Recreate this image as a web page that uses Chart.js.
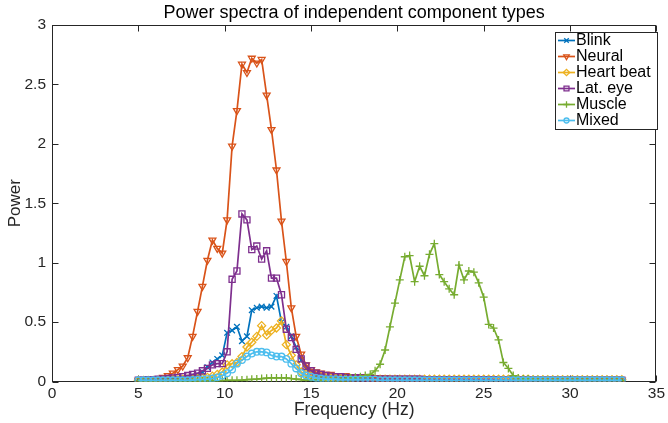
<!DOCTYPE html>
<html>
<head>
<meta charset="utf-8">
<script src="https://cdn.jsdelivr.net/npm/chart.js"></script>
<style>
  body { margin: 0; background: #fff; }
</style>
</head>
<body>
<canvas id="mychart" width="668" height="423"></canvas>
<script>
// frequency bins (Hz)
var freqs = [
  5, 5.29, 5.57, 5.86, 6.14, 6.43, 6.71,
  7, 7.29, 7.57, 7.86, 8.14, 8.43, 8.71,
  9, 9.29, 9.57, 9.86, 10.14, 10.43, 10.71,
  11, 11.29, 11.57, 11.86, 12.14, 12.43, 12.71,
  13, 13.29, 13.57, 13.86, 14.14, 14.43, 14.71,
  15, 15.29, 15.57, 15.86, 16.14, 16.43, 16.71,
  17, 17.29, 17.57, 17.86, 18.14, 18.43, 18.71,
  19, 19.29, 19.57, 19.86, 20.14, 20.43, 20.71,
  21, 21.29, 21.57, 21.86, 22.14, 22.43, 22.71,
  23, 23.29, 23.57, 23.86, 24.14, 24.43, 24.71,
  25, 25.29, 25.57, 25.86, 26.14, 26.43, 26.71,
  27, 27.29, 27.57, 27.86, 28.14, 28.43, 28.71,
  29, 29.29, 29.57, 29.86, 30.14, 30.43, 30.71,
  31, 31.29, 31.57, 31.86, 32.14, 32.43, 32.71,
  33
]

var blink = [
  0.01, 0.01, 0.01, 0.01, 0.015, 0.015, 0.02,
  0.02, 0.025, 0.03, 0.035, 0.045, 0.055, 0.08,
  0.12, 0.16, 0.19, 0.22, 0.41, 0.43, 0.46,
  0.34, 0.38, 0.60, 0.62, 0.63, 0.62, 0.63,
  0.72, 0.50, 0.46, 0.38, 0.29, 0.18, 0.11,
  0.08, 0.06, 0.05, 0.04, 0.035, 0.03, 0.03,
  0.03, 0.025, 0.025, 0.02, 0.02, 0.02, 0.02,
  0.02, 0.02, 0.015, 0.015, 0.015, 0.015, 0.015,
  0.015, 0.015, 0.015, 0.015, 0.015, 0.015, 0.015,
  0.015, 0.015, 0.015, 0.01, 0.01, 0.01, 0.01,
  0.01, 0.01, 0.01, 0.01, 0.01, 0.01, 0.01,
  0.01, 0.01, 0.01, 0.01, 0.01, 0.01, 0.01,
  0.01, 0.01, 0.01, 0.01, 0.01, 0.01, 0.01,
  0.01, 0.01, 0.01, 0.01, 0.01, 0.01, 0.01,
  0.01
]

var neural = [
  0.01, 0.015, 0.02, 0.02, 0.025, 0.035, 0.05,
  0.07, 0.10, 0.13, 0.20, 0.38, 0.59, 0.80,
  1.02, 1.19, 1.12, 1.08, 1.36, 1.98, 2.28,
  2.67, 2.60, 2.72, 2.68, 2.71, 2.41, 2.12,
  1.78, 1.35, 1.01, 0.62, 0.38, 0.23, 0.14,
  0.10, 0.08, 0.07, 0.06, 0.06, 0.05, 0.05,
  0.05, 0.04, 0.04, 0.04, 0.04, 0.03, 0.03,
  0.03, 0.03, 0.02, 0.02, 0.02, 0.02, 0.02,
  0.02, 0.02, 0.02, 0.02, 0.02, 0.02, 0.02,
  0.02, 0.02, 0.02, 0.015, 0.015, 0.015, 0.015,
  0.015, 0.015, 0.015, 0.015, 0.015, 0.015, 0.015,
  0.01, 0.01, 0.01, 0.01, 0.01, 0.01, 0.01,
  0.01, 0.01, 0.01, 0.01, 0.01, 0.01, 0.01,
  0.01, 0.01, 0.01, 0.01, 0.01, 0.01, 0.01,
  0.01
]

var heartBeat = [
  0.01, 0.01, 0.01, 0.01, 0.01, 0.01, 0.01,
  0.015, 0.015, 0.02, 0.02, 0.02, 0.025, 0.03,
  0.035, 0.045, 0.06, 0.08, 0.14, 0.15, 0.16,
  0.21, 0.29, 0.33, 0.38, 0.47, 0.39, 0.43,
  0.45, 0.51, 0.31, 0.22, 0.14, 0.08, 0.06,
  0.05, 0.04, 0.035, 0.03, 0.03, 0.03, 0.025,
  0.025, 0.025, 0.02, 0.02, 0.02, 0.02, 0.02,
  0.02, 0.02, 0.02, 0.02, 0.02, 0.02, 0.02,
  0.02, 0.02, 0.02, 0.02, 0.02, 0.02, 0.02,
  0.02, 0.02, 0.02, 0.02, 0.02, 0.02, 0.02,
  0.02, 0.02, 0.02, 0.02, 0.02, 0.02, 0.02,
  0.02, 0.02, 0.02, 0.015, 0.015, 0.015, 0.015,
  0.015, 0.015, 0.015, 0.015, 0.015, 0.015, 0.015,
  0.015, 0.015, 0.015, 0.015, 0.015, 0.015, 0.015,
  0.015
]

var latEye = [
  0.01, 0.01, 0.015, 0.015, 0.02, 0.02, 0.025,
  0.03, 0.035, 0.04, 0.05, 0.06, 0.07, 0.09,
  0.11, 0.14, 0.15, 0.15, 0.25, 0.86, 0.93,
  1.41, 1.36, 1.11, 1.14, 1.03, 1.10, 0.87,
  0.87, 0.73, 0.44, 0.37, 0.27, 0.19, 0.13,
  0.09, 0.07, 0.06, 0.05, 0.045, 0.04, 0.04,
  0.035, 0.03, 0.03, 0.03, 0.025, 0.025, 0.02,
  0.02, 0.02, 0.02, 0.02, 0.02, 0.02, 0.02,
  0.02, 0.02, 0.015, 0.015, 0.015, 0.015, 0.015,
  0.015, 0.015, 0.015, 0.015, 0.015, 0.015, 0.015,
  0.015, 0.015, 0.015, 0.01, 0.01, 0.01, 0.01,
  0.01, 0.01, 0.01, 0.01, 0.01, 0.01, 0.01,
  0.01, 0.01, 0.01, 0.01, 0.01, 0.01, 0.01,
  0.01, 0.01, 0.01, 0.01, 0.01, 0.01, 0.01,
  0.01
]

var muscle = [
  0.005, 0.005, 0.005, 0.005, 0.005, 0.005, 0.005,
  0.005, 0.005, 0.005, 0.005, 0.005, 0.005, 0.005,
  0.005, 0.005, 0.005, 0.008, 0.01, 0.01, 0.01,
  0.012, 0.015, 0.018, 0.02, 0.025, 0.028, 0.03,
  0.03, 0.03, 0.03, 0.025, 0.02, 0.015, 0.012,
  0.012, 0.015, 0.015, 0.018, 0.02, 0.02, 0.022,
  0.025, 0.03, 0.035, 0.04, 0.05, 0.06, 0.09,
  0.145, 0.265, 0.46, 0.66, 0.855, 1.05, 1.06,
  0.84, 0.97, 0.89, 1.07, 1.16, 0.90, 0.84,
  0.78, 0.73, 0.98, 0.855, 0.93, 0.92, 0.83,
  0.71, 0.48, 0.45, 0.35, 0.16, 0.11, 0.05,
  0.03, 0.02, 0.02, 0.015, 0.015, 0.01, 0.01,
  0.01, 0.01, 0.01, 0.01, 0.01, 0.01, 0.01,
  0.01, 0.01, 0.01, 0.01, 0.01, 0.01, 0.01,
  0.01
]

var mixed = [
  0.01, 0.01, 0.01, 0.01, 0.01, 0.01, 0.01,
  0.01, 0.01, 0.01, 0.01, 0.012, 0.015, 0.018,
  0.02, 0.025, 0.035, 0.05, 0.07, 0.10, 0.15,
  0.18, 0.21, 0.235, 0.25, 0.25, 0.245, 0.22,
  0.21, 0.21, 0.19, 0.15, 0.11, 0.07, 0.05,
  0.04, 0.03, 0.025, 0.02, 0.02, 0.02, 0.015,
  0.015, 0.015, 0.015, 0.015, 0.015, 0.015, 0.015,
  0.01, 0.01, 0.01, 0.01, 0.01, 0.01, 0.01,
  0.01, 0.01, 0.01, 0.01, 0.01, 0.01, 0.01,
  0.01, 0.01, 0.01, 0.01, 0.01, 0.01, 0.01,
  0.01, 0.01, 0.01, 0.01, 0.01, 0.01, 0.01,
  0.01, 0.01, 0.01, 0.01, 0.01, 0.01, 0.01,
  0.01, 0.01, 0.01, 0.01, 0.01, 0.01, 0.01,
  0.01, 0.01, 0.01, 0.01, 0.01, 0.01, 0.01,
  0.01
]

var names = ["Blink", "Neural", "Heart beat", "Lat. eye", "Muscle", "Mixed"]
var colors = ["#0072BD", "#D95319", "#EDB120", "#7E2F8E", "#77AC30", "#4DBEEE"]
var styles = ["crossRot", "triangle", "rectRot", "rect", "cross", "circle"]
var rotations = [0, 180, 0, 0, 0, 0]
var radii = [4, 4, 4, 4.3, 4, 3.3]
var series = [blink, neural, heartBeat, latEye, muscle, mixed]

var FONT = "'Liberation Sans', Arial, Helvetica, sans-serif"
var AXIS = "#262626"

function toPoints(vals) {
  var pts = []
  for (var i = 0; i < freqs.length; i++) pts.push({x: freqs[i], y: vals[i]})
  return pts
}

var datasets = []
for (var k = 0; k < series.length; k++) {
  datasets.push({
    label: names[k],
    data: toPoints(series[k]),
    borderColor: colors[k],
    backgroundColor: colors[k],
    borderWidth: 1.7,
    pointStyle: styles[k],
    rotation: rotations[k],
    pointRadius: radii[k],
    pointHoverRadius: radii[k],
    pointBorderWidth: 1.3,
    pointBorderColor: colors[k],
    pointBackgroundColor: "rgba(255,255,255,0)",
    tension: 0,
    order: series.length - k
  })
}

// center the title over the axes, not over the whole canvas
var titlePlugin = {
  id: "titleOverAxes",
  afterLayout: function(chart) {
    if (chart.titleBlock) {
      chart.titleBlock.left = chart.chartArea.left
      chart.titleBlock.right = chart.chartArea.right
    }
  }
}

// MATLAB style box with inward ticks, drawn under the lines
var boxPlugin = {
  id: "box",
  beforeDatasetsDraw: function(chart) {
    var ctx = chart.ctx, a = chart.chartArea
    var xs = chart.scales.x, ys = chart.scales.y
    var L = Math.round(a.left) + 0.5, R = Math.round(a.right) - 0.5
    var T = Math.round(a.top) + 0.5, B = Math.round(a.bottom) - 0.5
    ctx.save()
    ctx.strokeStyle = AXIS
    ctx.lineWidth = 1
    ctx.strokeRect(L, T, R - L, B - T)
    ctx.beginPath()
    for (var v = 0; v <= 35; v += 5) {
      var px = Math.round(xs.getPixelForValue(v)) + 0.5
      ctx.moveTo(px, B); ctx.lineTo(px, B - 6)
      ctx.moveTo(px, T); ctx.lineTo(px, T + 6)
    }
    for (var w = 0; w <= 3; w += 0.5) {
      var py = Math.round(ys.getPixelForValue(w)) + 0.5
      ctx.moveTo(L, py); ctx.lineTo(L + 6, py)
      ctx.moveTo(R, py); ctx.lineTo(R - 6, py)
    }
    ctx.stroke()
    ctx.restore()
  }
}

// legend box inside the axes, top right
var legendPlugin = {
  id: "boxLegend",
  afterDraw: function(chart) {
    var ctx = chart.ctx
    var x0 = 555.5, y0 = 32.5, w = 102, h = 97
    ctx.save()
    ctx.fillStyle = "#fff"
    ctx.fillRect(x0, y0, w, h)
    ctx.strokeStyle = AXIS
    ctx.lineWidth = 1
    ctx.strokeRect(x0, y0, w, h)
    ctx.font = "16px " + FONT
    ctx.textBaseline = "middle"
    for (var k = 0; k < names.length; k++) {
      var cy = 40.5 + k * 16
      ctx.strokeStyle = colors[k]
      ctx.lineWidth = 1.7
      ctx.beginPath()
      ctx.moveTo(558, cy); ctx.lineTo(575, cy)
      ctx.stroke()
      ctx.lineWidth = 1.3
      ctx.fillStyle = "rgba(255,255,255,0)"
      Chart.helpers.drawPoint(ctx, {
        pointStyle: styles[k], rotation: rotations[k], radius: radii[k] - 0.8, borderWidth: 1.3
      }, 566.5, cy)
      ctx.fillStyle = "#000"
      ctx.fillText(names[k], 576, cy + 0.5)
    }
    ctx.restore()
  }
}

var myChart = document.getElementById("mychart").getContext("2d")

var chart = new Chart(myChart, {
  type: "line",
  data: { datasets: datasets },
  options: {
    responsive: false,
    animation: false,
    devicePixelRatio: 1,
    layout: { padding: { left: 0, right: 10, top: 0, bottom: 0 } },
    plugins: {
      legend: { display: false },
      tooltip: { enabled: false },
      title: {
        display: true,
        text: "Power spectra of independent component types",
        color: "#000",
        font: { family: FONT, size: 18, weight: "normal" },
        padding: { top: 2.2, bottom: 1.2 }
      }
    },
    scales: {
      x: {
        type: "linear",
        min: 0, max: 35,
        ticks: { stepSize: 5, color: AXIS, font: { family: FONT, size: 15.5 }, padding: 3, maxRotation: 0 },
        grid: { display: false, drawTicks: false },
        border: { display: false },
        title: { display: true, text: "Frequency (Hz)", color: AXIS, font: { family: FONT, size: 17.5 }, padding: { top: 0, bottom: 2 } },
        afterFit: function(s) { s.height = 41.5 }
      },
      y: {
        min: 0, max: 3,
        ticks: {
          stepSize: 0.5, color: AXIS, font: { family: FONT, size: 15.5 }, padding: 6,
          callback: function(v) { return String(Math.round(v * 10) / 10) }
        },
        grid: { display: false, drawTicks: false },
        border: { display: false },
        title: { display: true, text: "Power", color: AXIS, font: { family: FONT, size: 17 }, padding: { top: 5, bottom: 0 } },
        afterFit: function(s) { s.width = 52 }
      }
    }
  },
  plugins: [titlePlugin, boxPlugin, legendPlugin]
})
</script>
</body>
</html>
